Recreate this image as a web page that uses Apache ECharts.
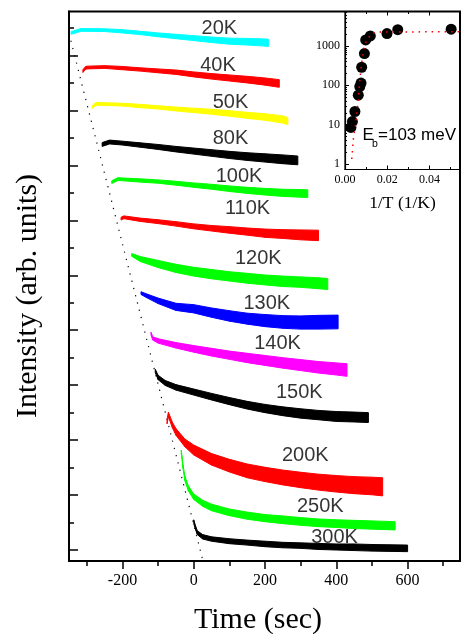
<!DOCTYPE html>
<html>
<head>
<meta charset="utf-8">
<script src="https://cdn.jsdelivr.net/npm/echarts@6.0.0/dist/echarts.min.js"></script>
<style>
  html, body { margin: 0; padding: 0; background: #fff; }
  #main { width: 462px; height: 634px; }
</style>
</head>
<body>
<div id="main"></div>
<script>
// each trace: [time (s), mean intensity, noise half-width]  (arb. units, offset)
var k20 = [[-344,18.82,0.05],[-316,18.93,0.05],[-250,18.92,0.05],[-200,18.88,0.06],[-150,18.82,0.06],[-100,18.75,0.07],[-50,18.69,0.08],[0,18.63,0.09],[50,18.57,0.10],[100,18.52,0.11],[150,18.50,0.12],[200,18.47,0.13],[210,18.46,0.13]];
var k40 = [[-311,17.43,0.05],[-304,17.54,0.05],[-300,17.56,0.05],[-250,17.58,0.05],[-200,17.54,0.06],[-150,17.49,0.06],[-100,17.44,0.07],[-50,17.39,0.08],[0,17.31,0.09],[50,17.24,0.10],[100,17.18,0.11],[150,17.12,0.12],[200,17.05,0.13],[240,16.98,0.14]];
var k50 = [[-285,16.12,0.05],[-274,16.24,0.05],[-250,16.23,0.05],[-200,16.21,0.05],[-150,16.16,0.06],[-100,16.11,0.06],[-50,16.05,0.07],[0,16.00,0.08],[50,15.95,0.09],[100,15.89,0.10],[150,15.82,0.11],[200,15.76,0.12],[250,15.67,0.13],[264,15.61,0.13]];
var k80 = [[-257,14.76,0.07],[-236,14.85,0.07],[-200,14.81,0.07],[-150,14.74,0.08],[-100,14.67,0.09],[-50,14.59,0.10],[0,14.52,0.11],[50,14.45,0.12],[100,14.38,0.13],[150,14.32,0.14],[200,14.27,0.15],[250,14.22,0.16],[292,14.18,0.16]];
var k100 = [[-230,13.39,0.05],[-213,13.50,0.05],[-200,13.49,0.05],[-150,13.45,0.06],[-100,13.41,0.06],[-50,13.35,0.07],[0,13.28,0.08],[50,13.22,0.09],[100,13.15,0.10],[150,13.09,0.11],[200,13.04,0.12],[250,13.00,0.13],[300,12.98,0.14],[320,12.97,0.14]];
var k110 = [[-204,12.06,0.05],[-196,12.11,0.05],[-150,12.02,0.06],[-100,11.95,0.07],[-50,11.87,0.08],[0,11.78,0.09],[50,11.71,0.10],[100,11.65,0.12],[150,11.59,0.13],[200,11.53,0.15],[250,11.50,0.16],[300,11.47,0.18],[350,11.45,0.19]];
var k120 = [[-174,10.74,0.05],[-150,10.59,0.09],[-100,10.41,0.13],[-50,10.25,0.15],[0,10.13,0.16],[50,10.04,0.17],[100,9.96,0.17],[150,9.89,0.18],[200,9.83,0.18],[250,9.78,0.19],[300,9.75,0.19],[350,9.71,0.20],[376,9.68,0.20]];
var k130 = [[-148,9.35,0.05],[-130,9.24,0.07],[-100,9.07,0.10],[-50,8.85,0.13],[0,8.78,0.15],[50,8.64,0.17],[100,8.52,0.19],[150,8.42,0.20],[200,8.35,0.22],[250,8.30,0.23],[300,8.28,0.24],[350,8.29,0.25],[405,8.30,0.25]];
var k140 = [[-120,7.88,0.05],[-115,7.70,0.06],[-100,7.61,0.08],[-50,7.45,0.10],[0,7.32,0.12],[50,7.20,0.14],[100,7.09,0.15],[150,6.99,0.17],[200,6.90,0.18],[250,6.81,0.19],[300,6.73,0.20],[350,6.65,0.21],[400,6.59,0.22],[430,6.55,0.23]];
var k150 = [[-108,6.52,0.06],[-100,6.28,0.08],[-80,6.08,0.09],[-50,5.92,0.10],[0,5.75,0.11],[50,5.58,0.12],[100,5.42,0.13],[150,5.27,0.14],[200,5.15,0.15],[250,5.05,0.16],[300,4.97,0.17],[350,4.91,0.17],[400,4.86,0.18],[450,4.84,0.18],[490,4.82,0.18]];
var k200 = [[-75,4.67,0.08],[-71,4.93,0.08],[-60,4.55,0.10],[-50,4.30,0.12],[-25,3.90,0.14],[0,3.64,0.18],[50,3.30,0.21],[100,3.07,0.23],[150,2.88,0.25],[200,2.75,0.26],[250,2.64,0.27],[300,2.55,0.28],[350,2.47,0.29],[400,2.41,0.30],[450,2.36,0.31],[500,2.33,0.32],[530,2.30,0.33]];
var k250 = [[-35,3.58,0.06],[-30,3.03,0.07],[-25,2.61,0.08],[-15,2.24,0.09],[0,1.94,0.10],[25,1.70,0.11],[50,1.55,0.12],[100,1.37,0.12],[150,1.25,0.13],[200,1.16,0.13],[250,1.10,0.14],[300,1.04,0.14],[350,0.99,0.14],[400,0.96,0.14],[450,0.93,0.15],[500,0.91,0.15],[565,0.88,0.15]];
var k300 = [[0,1.03,0.07],[5,0.81,0.07],[10,0.63,0.07],[25,0.48,0.08],[50,0.40,0.08],[100,0.32,0.09],[150,0.27,0.09],[200,0.22,0.10],[250,0.18,0.10],[300,0.16,0.10],[350,0.13,0.11],[400,0.11,0.11],[450,0.10,0.12],[500,0.08,0.12],[550,0.07,0.12],[600,0.06,0.12]];

var traces = [k20, k40, k50, k80, k100, k110, k120, k130, k140, k150, k200, k250, k300];
var tempNames = ['20K', '40K', '50K', '80K', '100K', '110K', '120K', '130K', '140K', '150K', '200K', '250K', '300K'];
var traceColors = ['#00ffff', '#ff0000', '#ffff00', '#000000', '#00ff00', '#ff0000', '#00ff00', '#0000ff', '#ff00ff', '#000000', '#ff0000', '#00ff00', '#000000'];
// where each temperature label sits [time, intensity]
var tempLabelPos = [[72,18.98],[68,17.65],[103,16.29],[103,14.98],[127,13.6],[151,12.44],[181,10.62],[205,8.97],[235,7.52],[296,5.75],[313,3.45],[355,1.6],[395,0.44]];
// dotted guide line through the onsets
var onsetLine = [[-350, 18.8], [24, -0.3]];

var timeTicks = [-200, 0, 200, 400, 600];
var timeMinor = [-300, -100, 100, 300, 500, 700];
var intMajor = [0, 2, 4, 6, 8, 10, 12, 14, 16, 18];
var intMinor = [1, 3, 5, 7, 9, 11, 13, 15, 17, 19];

// inset: integrated intensity vs 1/T
var invT = [0.0028, 0.0035, 0.0047, 0.0063, 0.0070, 0.0076, 0.0079, 0.0092, 0.0098, 0.0120, 0.0199, 0.0250, 0.0503];
var integ = [8.5, 12, 21.6, 56, 93, 114, 288, 641, 1430, 1800, 2070, 2600, 2670];
var fitX = [0.0032, 0.0035, 0.0039, 0.0051, 0.0063, 0.0071, 0.0079, 0.0090, 0.0103, 0.0127, 0.0150, 0.0200, 0.0550];
var fitY = [1.34, 2.1, 4.1, 11, 43, 147, 366, 880, 1420, 2100, 2250, 2280, 2290];
var insetXTicks = [0, 0.02, 0.04];
var insetXMinor = [0.01, 0.03, 0.05];
var insetYTicks = [1, 10, 100, 1000];
var insetYMinor = [2,3,4,5,6,7,8,9,20,30,40,50,60,70,80,90,200,300,400,500,600,700,800,900,2000,3000,4000,5000,6000,7000];

var serif = 'Liberation Serif, Times New Roman, serif';
var sans = 'Liberation Sans, Arial, sans-serif';

var myChart = echarts.init(document.getElementById('main'), null, {renderer: 'canvas'});

function bandRender(rows, color) {
    return function (params, api) {
        var i = params.dataIndex;
        if (i >= rows.length - 1) return null;
        var a = rows[i], b = rows[i + 1];
        var pts = [
            api.coord([a[0], a[1] + a[2]]),
            api.coord([b[0], b[1] + b[2]]),
            api.coord([b[0], b[1] - b[2]]),
            api.coord([a[0], a[1] - a[2]])
        ];
        return {
            type: 'polygon',
            shape: {points: pts},
            style: {fill: color, stroke: color, lineWidth: 1}
        };
    };
}

var series = [];
series.push({
    type: 'line',
    xAxisIndex: 0, yAxisIndex: 0,
    data: onsetLine,
    showSymbol: false,
    lineStyle: {color: '#000', width: 1.2, type: [1.2, 6.3]},
    z: 1
});
traces.forEach(function (rows, k) {
    series.push({
        type: 'custom',
        name: tempNames[k],
        xAxisIndex: 0, yAxisIndex: 0,
        renderItem: bandRender(rows, traceColors[k]),
        data: rows,
        encode: {x: 0, y: 1},
        z: 2
    });
});
series.push({
    type: 'scatter',
    xAxisIndex: 0, yAxisIndex: 0,
    symbolSize: 1,
    itemStyle: {color: 'rgba(0,0,0,0)'},
    data: tempLabelPos.map(function (p, k) { return [p[0], p[1], tempNames[k]]; }),
    label: {
        show: true,
        position: 'inside',
        formatter: function (p) { return p.value[2]; },
        fontFamily: sans,
        fontSize: 20,
        color: '#000'
    },
    z: 3
});
series.push({
    type: 'scatter',
    xAxisIndex: 2, yAxisIndex: 2,
    symbolSize: 11,
    itemStyle: {color: '#000', opacity: 1},
    data: invT.map(function (x, i) { return [x, integ[i]]; }),
    z: 4
});
series.push({
    type: 'line',
    xAxisIndex: 2, yAxisIndex: 2,
    showSymbol: false,
    data: fitX.map(function (x, i) { return [x, fitY[i]]; }),
    lineStyle: {color: '#ff0000', width: 1.5, type: [1.5, 5]},
    z: 5
});

var noLine = {show: false, onZero: false};

var option = {
    animation: false,
    backgroundColor: '#fff',
    grid: [
        {left: 69, top: 11.5, right: 2, bottom: 73, show: true, borderColor: '#000', borderWidth: 2, backgroundColor: 'transparent'},
        {left: 345, top: 11.5, right: 2, bottom: 464.5, show: true, borderColor: '#000', borderWidth: 1.2, backgroundColor: 'transparent'}
    ],
    xAxis: [
        {
            gridIndex: 0, type: 'value', min: -350, max: 747, position: 'bottom',
            axisLine: {show: true, onZero: false, lineStyle: {color: '#000', width: 2}},
            axisTick: {show: true, inside: false, length: 8, customValues: timeTicks, lineStyle: {color: '#000', width: 1.5}},
            axisLabel: {show: true, customValues: timeTicks, fontFamily: serif, fontSize: 16, color: '#000', margin: 12},
            splitLine: {show: false}
        },
        {
            gridIndex: 0, type: 'value', min: -350, max: 747, position: 'bottom',
            axisLine: noLine,
            axisTick: {show: true, inside: false, length: 5, customValues: timeMinor, lineStyle: {color: '#000', width: 1.5}},
            axisLabel: {show: false},
            splitLine: {show: false}
        },
        {
            gridIndex: 1, type: 'value', min: 0, max: 0.0545, position: 'bottom',
            axisLine: {show: true, onZero: false, lineStyle: {color: '#000', width: 1.2}},
            axisTick: {show: true, inside: true, length: 4, customValues: insetXTicks, lineStyle: {color: '#000'}},
            axisLabel: {
                show: true, customValues: insetXTicks, fontFamily: serif, fontSize: 12, color: '#000', margin: 4,
                formatter: function (v) { return v.toFixed(2); }
            },
            name: '1/T (1/K)', nameLocation: 'middle', nameGap: 25,
            nameTextStyle: {fontFamily: serif, fontSize: 17.5, color: '#000'},
            splitLine: {show: false}
        },
        {
            gridIndex: 1, type: 'value', min: 0, max: 0.0545, position: 'bottom',
            axisLine: noLine,
            axisTick: {show: true, inside: true, length: 2.5, customValues: insetXMinor, lineStyle: {color: '#000'}},
            axisLabel: {show: false},
            splitLine: {show: false}
        },
        {
            gridIndex: 1, type: 'value', min: 0, max: 0.0545, position: 'top',
            axisLine: noLine,
            axisTick: {show: true, inside: true, length: 4, customValues: [0.02, 0.04], lineStyle: {color: '#000'}},
            axisLabel: {show: false},
            splitLine: {show: false}
        },
        {
            gridIndex: 1, type: 'value', min: 0, max: 0.0545, position: 'top',
            axisLine: noLine,
            axisTick: {show: true, inside: true, length: 2.5, customValues: [0.01, 0.03], lineStyle: {color: '#000'}},
            axisLabel: {show: false},
            splitLine: {show: false}
        }
    ],
    yAxis: [
        {
            gridIndex: 0, type: 'value', min: -0.4, max: 19.6, position: 'left',
            axisLine: {show: true, onZero: false, lineStyle: {color: '#000', width: 2}},
            axisTick: {show: true, inside: true, length: 9, customValues: intMajor, lineStyle: {color: '#000', width: 1.5}},
            axisLabel: {show: false},
            splitLine: {show: false}
        },
        {
            gridIndex: 0, type: 'value', min: -0.4, max: 19.6, position: 'left',
            axisLine: noLine,
            axisTick: {show: true, inside: true, length: 5, customValues: intMinor, lineStyle: {color: '#000', width: 1.5}},
            axisLabel: {show: false},
            splitLine: {show: false}
        },
        {
            gridIndex: 1, type: 'log', min: 0.724, max: 7530, position: 'left',
            axisLine: {show: true, onZero: false, lineStyle: {color: '#000', width: 1.2}},
            axisTick: {show: true, inside: true, length: 4, customValues: insetYTicks, lineStyle: {color: '#000'}},
            axisLabel: {
                show: true, customValues: insetYTicks, fontFamily: serif, fontSize: 12, color: '#000', margin: 5,
                formatter: function (v) { return String(Math.round(v)); }
            },
            splitLine: {show: false}
        },
        {
            gridIndex: 1, type: 'log', min: 0.724, max: 7530, position: 'left',
            axisLine: noLine,
            axisTick: {show: true, inside: true, length: 2, customValues: insetYMinor, lineStyle: {color: '#000'}},
            axisLabel: {show: false},
            splitLine: {show: false}
        }
    ],
    graphic: [
        {
            type: 'text', x: 28, y: 296, rotation: Math.PI / 2,
            style: {text: 'Intensity (arb. units)', font: '30px ' + serif, fill: '#000', align: 'center', verticalAlign: 'middle'}
        },
        {
            type: 'text', x: 258, y: 620,
            style: {text: 'Time (sec)', font: '30px ' + serif, fill: '#000', align: 'center', verticalAlign: 'middle'}
        },
        {
            type: 'text', x: 362.5, y: 135,
            style: {text: 'E', font: '17px ' + sans, fill: '#000', align: 'left', verticalAlign: 'middle'}
        },
        {
            type: 'text', x: 372, y: 144,
            style: {text: 'b', font: '10.5px ' + sans, fill: '#000', align: 'left', verticalAlign: 'middle'}
        },
        {
            type: 'text', x: 378, y: 135,
            style: {text: '=103 meV', font: '17px ' + sans, fill: '#000', align: 'left', verticalAlign: 'middle'}
        }
    ],
    series: series
};
myChart.setOption(option);

window.addEventListener("resize", function () {
    myChart.resize();
});
</script>
</body>
</html>
